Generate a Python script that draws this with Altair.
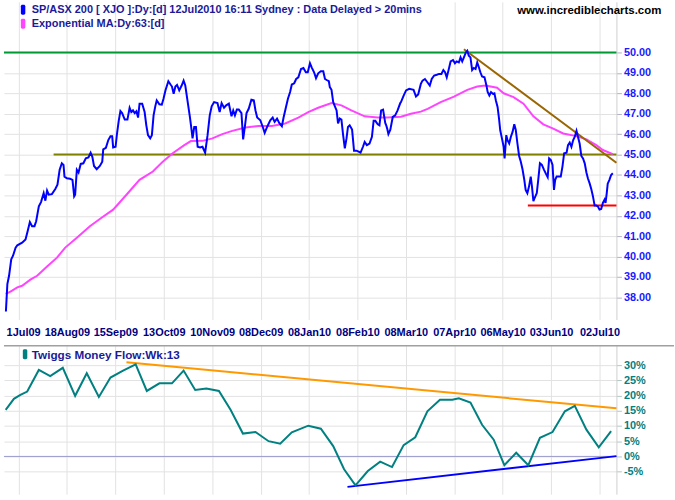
import altair as alt
import pandas as pd

# ---------------- data (trading-day index, value) ----------------
price_points = [
    (0.8, 37.31), (1.4, 38.65), (2.1, 39.06), (3.0, 39.87), (3.7, 40.03), (4.8, 40.44),
    (5.5, 40.55), (7.5, 40.68), (8.9, 40.84), (9.8, 41.25), (10.7, 41.69), (11.6, 41.49),
    (12.6, 41.49), (13.3, 41.73), (14.4, 42.46), (15.3, 42.67), (16.4, 43.11), (17.1, 42.74),
    (17.8, 43.23), (18.5, 43.03), (19.8, 43.06), (21.2, 43.31), (22.1, 43.52), (23.0, 44.25),
    (23.9, 44.57), (24.6, 44.49), (25.0, 43.92), (26.0, 43.84), (27.3, 43.81), (28.3, 43.76),
    (29.0, 42.95), (29.4, 43.03), (30.1, 44.25), (30.8, 44.12), (31.7, 44.54), (32.8, 44.57),
    (33.8, 44.81), (34.9, 44.86), (35.8, 45.09), (36.5, 44.89), (37.2, 44.44), (38.3, 44.28),
    (39.6, 44.44), (40.6, 44.65), (41.0, 45.25), (42.1, 45.33), (43.1, 45.71), (44.0, 45.90),
    (44.7, 45.90), (45.1, 45.35), (46.1, 45.38), (46.7, 46.03), (47.4, 46.65), (48.1, 47.13),
    (48.8, 47.03), (49.9, 46.71), (51.0, 46.71), (51.9, 47.29), (52.6, 47.08), (53.3, 47.16),
    (54.0, 47.03), (54.7, 47.12), (55.4, 46.81), (56.0, 47.49), (57.1, 47.49), (58.1, 47.08),
    (58.8, 46.43), (59.5, 45.95), (60.4, 45.79), (61.1, 45.95), (61.8, 46.92), (62.5, 47.36),
    (63.1, 47.65), (64.2, 47.46), (65.2, 47.44), (65.9, 47.73), (66.7, 48.14), (67.9, 48.59),
    (68.8, 48.43), (69.4, 48.33), (70.1, 47.97), (70.8, 48.33), (71.5, 48.41), (72.4, 48.14),
    (73.4, 48.38), (74.2, 48.62), (74.9, 48.38), (75.9, 47.57), (76.8, 46.84), (77.5, 46.19),
    (77.9, 45.79), (78.6, 46.35), (79.3, 46.35), (80.0, 45.38), (81.0, 45.35), (82.0, 45.38),
    (83.1, 45.09), (84.1, 45.95), (85.0, 46.92), (85.8, 47.36), (86.8, 47.57), (88.2, 47.52),
    (89.1, 47.08), (89.9, 47.52), (90.9, 47.29), (91.8, 47.41), (92.9, 47.49), (94.0, 46.87),
    (94.7, 47.16), (95.4, 46.92), (96.2, 47.20), (97.0, 47.20), (98.1, 47.03), (98.8, 45.74),
    (99.5, 46.35), (100.2, 47.03), (101.1, 47.24), (102.2, 47.68), (103.2, 47.65), (103.9, 47.16),
    (104.6, 46.81), (105.9, 46.68), (106.9, 46.35), (107.7, 46.06), (108.7, 46.35), (110.0, 46.68),
    (111.0, 46.81), (111.8, 46.60), (112.8, 46.76), (113.7, 46.55), (114.8, 46.39), (115.5, 46.81),
    (116.5, 47.33), (117.3, 47.73), (118.2, 48.06), (118.9, 48.43), (119.9, 48.49), (120.7, 48.70),
    (121.6, 48.78), (122.7, 49.19), (123.7, 49.24), (124.7, 49.03), (125.5, 49.03), (126.4, 49.47),
    (127.1, 49.27), (128.1, 49.03), (128.9, 48.74), (129.8, 48.98), (130.9, 49.08), (131.9, 49.08),
    (132.6, 48.70), (133.3, 48.65), (134.2, 48.59), (134.6, 48.30), (135.3, 48.17), (136.0, 47.57),
    (136.7, 47.36), (137.4, 47.16), (138.0, 46.52), (138.7, 46.76), (139.4, 46.71), (140.1, 45.95),
    (140.8, 45.30), (141.5, 45.79), (142.1, 46.35), (142.8, 46.43), (143.8, 46.22), (144.6, 45.19),
    (145.6, 45.19), (146.5, 45.14), (147.3, 45.09), (148.3, 45.38), (149.0, 45.62), (149.9, 45.46),
    (151.0, 45.54), (152.0, 45.87), (152.7, 46.65), (153.4, 46.65), (154.4, 46.48), (155.1, 46.43),
    (155.8, 47.16), (156.6, 47.20), (157.5, 46.55), (157.9, 46.43), (158.3, 46.27), (158.8, 46.00),
    (159.6, 46.22), (160.6, 46.84), (161.6, 46.92), (162.6, 47.16), (163.7, 47.52), (164.0, 47.57),
    (165.1, 47.89), (166.1, 48.14), (167.4, 48.22), (169.2, 48.17), (170.2, 47.84), (171.1, 47.94),
    (172.2, 48.46), (172.9, 48.62), (173.9, 48.70), (174.9, 48.54), (175.9, 48.38), (176.7, 48.70),
    (177.7, 48.87), (178.8, 48.91), (179.7, 48.95), (180.7, 48.95), (181.5, 49.14), (182.2, 49.03),
    (182.9, 48.78), (183.6, 49.11), (184.5, 49.56), (185.5, 49.63), (186.3, 49.47), (187.0, 49.56),
    (187.9, 49.51), (188.6, 49.76), (189.3, 49.56), (190.0, 49.76), (190.8, 50.00), (191.4, 50.08),
    (192.0, 49.84), (192.7, 49.76), (193.4, 49.14), (194.1, 49.24), (194.8, 49.19), (195.5, 49.51),
    (196.1, 49.30), (196.8, 49.03), (197.5, 48.82), (198.5, 48.78), (199.3, 48.38), (199.8, 48.06),
    (200.5, 47.89), (201.2, 48.06), (202.0, 47.97), (202.6, 48.00), (203.2, 47.65), (203.9, 47.33),
    (204.5, 46.76), (205.0, 46.19), (205.7, 45.79), (206.4, 45.38), (206.8, 44.81), (207.2, 45.46),
    (207.5, 45.95), (208.0, 45.70), (208.7, 45.54), (209.4, 45.87), (210.1, 46.11), (210.8, 46.48),
    (211.4, 46.22), (212.1, 45.54), (212.8, 44.93), (213.5, 44.65), (214.2, 44.28), (214.9, 43.79),
    (215.5, 43.27), (216.2, 43.11), (216.9, 43.44), (217.6, 43.92), (218.1, 43.44), (218.7, 42.71),
    (219.2, 42.87), (220.1, 43.11), (220.7, 43.76), (221.4, 44.57), (222.2, 44.49), (223.1, 44.25),
    (223.9, 44.05), (224.6, 43.89), (225.2, 44.81), (225.9, 44.73), (226.6, 44.49), (227.2, 43.27),
    (227.7, 43.76), (228.3, 43.92), (229.3, 43.92), (230.0, 43.92), (230.7, 44.41), (231.4, 45.06),
    (232.4, 45.09), (233.0, 45.46), (233.7, 45.58), (234.4, 45.38), (235.1, 45.70), (235.8, 45.87),
    (236.5, 46.16), (237.1, 45.87), (237.8, 45.54), (238.5, 44.93), (239.2, 44.81), (239.9, 44.57),
    (240.6, 44.12), (241.2, 43.84), (241.9, 43.60), (242.6, 43.31), (243.3, 42.95), (244.0, 42.50),
    (244.7, 42.50), (245.3, 42.46), (246.0, 42.30), (246.7, 42.33), (247.4, 42.63), (248.1, 42.79),
    (248.5, 42.63), (249.0, 43.11), (249.4, 43.57), (250.1, 43.76), (250.8, 44.00), (251.5, 44.08),
]

ema_points = [
    (0.7, 38.17), (2.7, 38.28), (5.5, 38.49), (7.5, 38.57), (10.9, 38.87), (13.7, 39.06),
    (17.8, 39.51), (21.9, 39.95), (25.3, 40.44), (30.1, 40.92), (35.5, 41.49), (40.3, 41.90),
    (45.1, 42.30), (50.6, 43.03), (56.0, 43.76), (58.8, 43.97), (61.5, 44.17), (65.6, 44.65),
    (69.7, 45.06), (74.5, 45.46), (77.2, 45.66), (82.0, 45.67), (86.1, 45.79), (90.2, 46.00),
    (94.3, 46.16), (99.8, 46.32), (105.2, 46.40), (110.7, 46.40), (116.2, 46.52), (121.6, 46.81),
    (125.7, 47.08), (129.8, 47.29), (135.3, 47.52), (139.4, 47.41), (143.5, 47.16), (149.0, 46.87),
    (154.4, 46.81), (158.5, 46.81), (164.0, 46.85), (168.1, 47.00), (172.2, 47.10), (175.0, 47.24),
    (180.4, 47.57), (185.9, 47.84), (191.4, 48.17), (195.5, 48.33), (198.9, 48.38), (203.7, 48.27),
    (206.4, 48.00), (210.5, 47.81), (214.6, 47.49), (218.7, 46.87), (222.8, 46.48), (226.9, 46.27),
    (231.0, 46.03), (236.5, 45.90), (240.6, 45.74), (244.7, 45.46), (247.4, 45.22), (251.5, 45.02),
]

tmf_points = [
    (0.7, 15.3), (4.1, 18.9), (6.8, 20.2), (9.6, 21.3), (14.4, 28.4), (19.1, 26.4), (24.3, 29.1),
    (29.4, 19.9), (34.2, 27.3), (39.2, 19.5), (44.0, 25.9), (49.2, 28.2), (54.4, 30.2), (59.0, 21.5),
    (64.2, 24.0), (69.4, 24.0), (74.2, 28.2), (79.0, 21.8), (83.6, 22.3), (88.8, 21.5), (93.6, 15.3),
    (98.7, 7.5), (103.9, 8.0), (109.3, 5.0), (114.1, 4.2), (118.9, 7.9), (125.7, 10.1), (130.9, 9.1),
    (136.0, 3.4), (140.5, -4.2), (145.2, -9.5), (150.3, -4.8), (155.4, -1.7), (160.3, -3.5),
    (165.1, 3.7), (169.9, 6.3), (174.9, 14.8), (180.1, 18.6), (185.2, 18.6), (187.9, 19.1),
    (192.7, 17.7), (197.5, 10.4), (202.3, 5.5), (206.7, -2.9), (211.6, 1.2), (216.6, -2.9),
    (221.4, 6.1), (226.6, 8.0), (231.7, 14.8), (235.8, 16.6), (240.6, 8.8), (245.7, 3.0), (250.8, 8.3),
]

resistance_50 = [(0.0, 50.0), (253.0, 50.0)]
support_45 = [(20.5, 45.0), (253.0, 45.0)]
support_42 = [(216.4, 42.5), (253.0, 42.5)]
down_trend = [(190.0, 50.16), (253.0, 44.6)]
tmf_upper = [(50.6, 30.9), (253.0, 15.8)]
tmf_lower = [(141.9, -10.0), (253.0, 0.1)]
tmf_zero = [(0.0, 0.0), (253.0, 0.0)]

tick_days = [6, 26, 46, 66, 86, 106, 126, 146, 166, 186, 206, 226, 246]
tick_labels = ["1Jul09", "18Aug09", "15Sep09", "13Oct09", "10Nov09", "08Dec09", "08Jan10",
               "08Feb10", "08Mar10", "07Apr10", "06May10", "03Jun10", "02Jul10"]
price_ticks = [38, 39, 40, 41, 42, 43, 44, 45, 46, 47, 48, 49, 50]
tmf_ticks = [-5, 0, 5, 10, 15, 20, 25, 30]

title_main = "SP/ASX 200 [ XJO ]:Dy:[d]  12Jul2010 16:11 Sydney : Data Delayed > 20mins"
title_ema = "Exponential MA:Dy:63:[d]"
title_site = "www.incrediblecharts.com"
title_tmf = "Twiggs Money Flow:Wk:13"

# ---------------- chart ----------------
FONT = "Liberation Sans"
W, H_TOP, H_BOT = 617, 320, 150
X_DOMAIN = [0, 253]
GRID = "#e2e2e2"


def frame(points):
    return pd.DataFrame(points, columns=["day", "v"])


label_map = "[" + ",".join(f"'{t}'" for t in tick_labels) + "]"
day_map = "[" + ",".join(str(d) for d in tick_days) + "]"

x_top = alt.X(
    "day:Q",
    scale=alt.Scale(domain=X_DOMAIN, nice=False, zero=False),
    axis=alt.Axis(
        values=tick_days, labelExpr=f"{label_map}[indexof({day_map}, datum.value)]",
        grid=True, gridColor=GRID, domain=False, ticks=False, title=None,
        labelFont=FONT, labelFontSize=11, labelFontWeight="bold", labelColor="#000080",
        labelPadding=7, labelFlush=False, labelOverlap=False,
        labelAlign={"condition": {"test": "datum.value < 10", "value": "left"}, "value": "center"},
        labelOffset={"condition": {"test": "datum.value < 10", "value": -12.5}, "value": 0},
    ),
)
y_top = alt.Y(
    "v:Q",
    scale=alt.Scale(domain=[36.92, 52.48], nice=False, zero=False),
    axis=alt.Axis(
        orient="right", values=price_ticks, format=".2f", grid=True, gridColor=GRID,
        domain=True, domainColor="#cfcfcf", tickColor="#b0b0c8", tickSize=5, title=None,
        labelFont=FONT, labelFontSize=11, labelFontWeight="bold", labelColor="#1a1aff",
        labelPadding=2,
    ),
)


def line(points, color, width=2.0):
    return alt.Chart(frame(points)).mark_line(color=color, strokeWidth=width).encode(x=x_top, y=y_top)


def text(t, x, y, color, size=11):
    return alt.Chart(pd.DataFrame({"t": [t]})).mark_text(
        align="left", baseline="middle", font=FONT, fontSize=size, fontWeight="bold", color=color
    ).encode(x=alt.value(x), y=alt.value(y), text="t:N")


def swatch(color, x, y):
    return alt.Chart(pd.DataFrame({"t": [0]})).mark_rect(color=color, cornerRadius=1.5).encode(
        x=alt.value(x), x2=alt.value(x + 4.5), y=alt.value(y), y2=alt.value(y + 10)
    )


top = alt.layer(
    line(resistance_50, "#009933"),
    line(support_45, "#808000"),
    line(support_42, "#ff0000"),
    line(ema_points, "#ff44ff"),
    line(down_trend, "#996600"),
    line(price_points, "#0000ff"),
    swatch("#0000ff", 17, 3),
    swatch("#ff44ff", 17, 17),
    text(title_main, 28, 8, "#1a1a99"),
    text(title_ema, 28, 22.5, "#1a1a99"),
    text(title_site, 517, 9, "#000000", 11.5),
).properties(width=W, height=H_TOP)

x_bot = alt.X(
    "day:Q",
    scale=alt.Scale(domain=X_DOMAIN, nice=False, zero=False),
    axis=alt.Axis(values=tick_days, grid=True, gridColor=GRID, labels=False, ticks=False,
                  domain=False, title=None),
)
y_bot = alt.Y(
    "v:Q",
    scale=alt.Scale(domain=[-12.4, 36.5], nice=False, zero=False),
    axis=alt.Axis(
        orient="right", values=tmf_ticks, labelExpr="datum.value + '%'", grid=True, gridColor=GRID,
        domain=True, domainColor="#cfcfcf", tickColor="#b0c8c8", tickSize=5, title=None,
        labelFont=FONT, labelFontSize=11, labelFontWeight="bold", labelColor="#008080",
        labelPadding=2,
    ),
)


def bline(points, color, width=2.0):
    return alt.Chart(frame(points)).mark_line(color=color, strokeWidth=width).encode(x=x_bot, y=y_bot)


separator = alt.Chart(pd.DataFrame({"t": [0]})).mark_rule(color="#a0a0a0", strokeWidth=1.5).encode(
    x=alt.value(0), x2=alt.value(675), y=alt.value(0.5)
)

bottom = alt.layer(
    bline(tmf_zero, "#9999cc", 1.0),
    bline(tmf_upper, "#ff9900"),
    bline(tmf_lower, "#0000ff"),
    bline(tmf_points, "#008080"),
    separator,
    swatch("#008080", 19, 4),
    text(title_tmf, 28, 9.5, "#1a1a99", 11.8),
).properties(width=W, height=H_BOT)

chart = alt.vconcat(top, bottom, spacing=7).properties(padding=0).configure_view(stroke=None)

chart.save("out.html", embed_options={"renderer": "svg", "actions": False})
